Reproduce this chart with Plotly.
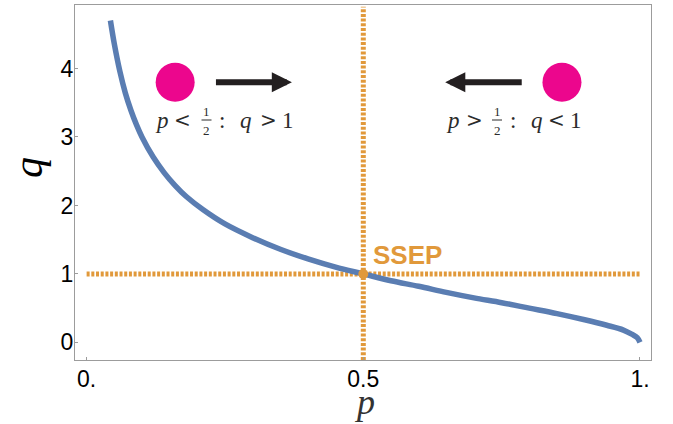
import plotly.graph_objects as go

# ---- data ----
p_vals = [0.043, 0.05, 0.06, 0.07, 0.08, 0.09, 0.10, 0.12, 0.14, 0.16, 0.18, 0.21,
          0.25, 0.30, 0.35, 0.40, 0.45, 0.50, 0.55, 0.60, 0.65, 0.70, 0.75, 0.80,
          0.85, 0.90, 0.94, 0.97, 0.985, 0.995, 1.0]
q_vals = [4.70, 4.36, 3.96, 3.64, 3.39, 3.18, 3.00, 2.71, 2.48, 2.29, 2.13, 1.94,
          1.73, 1.53, 1.36, 1.22, 1.10, 1.00, 0.90, 0.82, 0.73, 0.65, 0.58, 0.50,
          0.42, 0.33, 0.25, 0.18, 0.12, 0.07, 0.0]

hline_p = [0.0, 1.0]
hline_q = [1.0, 1.0]
vline_p = 0.5

ssep_p = [0.5]
ssep_q = [1.0]

particle_p = [0.160, 0.859]
particle_q = [3.80, 3.80]

x_tickvals = [0.0, 0.5, 1.0]
x_ticktext = ["0.", "0.5", "1."]
y_tickvals = [0, 1, 2, 3, 4]
y_ticktext = ["0", "1", "2", "3", "4"]

BLUE = "#5A7DB2"
ORANGE = "#E1993B"
PINK = "#EC068D"
FRAME = "#9C9C9C"
ARROW = "#231F20"

W, H = 673, 424
L, R, T, B = 75, 22, 5, 64
PW, PH = W - L - R, H - T - B


def px(x):
    return (x - L) / PW


def py(y):
    return 1 - (y - T) / PH


fig = go.Figure()

fig.add_trace(go.Scatter(x=hline_p, y=hline_q, mode="lines",
                         line=dict(color=ORANGE, width=5, dash="3px,1.7px"),
                         hoverinfo="skip", showlegend=False))
fig.add_shape(type="line", xref="x", yref="paper", x0=vline_p, x1=vline_p, y0=0, y1=0.995,
              line=dict(color=ORANGE, width=5, dash="3px,1.7px"), layer="below")

fig.add_trace(go.Scatter(x=p_vals, y=q_vals, mode="lines", line_shape="spline",
                         line=dict(color=BLUE, width=5.5),
                         hoverinfo="skip", showlegend=False))

fig.add_trace(go.Scatter(x=ssep_p, y=ssep_q, mode="markers",
                         marker=dict(color=ORANGE, size=10),
                         hoverinfo="skip", showlegend=False))

fig.add_trace(go.Scatter(x=particle_p, y=particle_q, mode="markers",
                         marker=dict(color=PINK, size=39, line=dict(width=0)),
                         hoverinfo="skip", showlegend=False))

annotations = []

# arrows
for tip, tail in [(0.371, 0.231), (0.648, 0.789)]:
    annotations.append(dict(x=tip, y=3.80, ax=tail, ay=3.80, xref="x", yref="y",
                            axref="x", ayref="y", text="", showarrow=True,
                            arrowhead=2, arrowsize=0.67, arrowwidth=6,
                            arrowcolor=ARROW))

# SSEP label
annotations.append(dict(x=px(371), y=py(255), xref="paper", yref="paper",
                        text="<b>SSEP</b>", showarrow=False, xanchor="left",
                        yanchor="middle",
                        font=dict(family="Liberation Sans, Arial", size=26, color=ORANGE)))

TXT = "#2B2B2B"
SERIF = "Liberation Serif, Times New Roman"
MF = dict(family=SERIF, size=23, color=TXT)
OF = dict(family="DejaVu Serif, " + SERIF, size=20, color=TXT)
FF = dict(family=SERIF, size=13, color=TXT)

# (text, centre x in px, font) pieces of the two condition labels
groups = [
    ([("<i>p</i>", 162, MF), ("<", 182.5, OF), (":", 222, MF), ("<i>q</i>", 246, MF),
      (">", 268.5, OF), ("1", 287.5, MF)], 206.5),
    ([("<i>p</i>", 453, MF), (">", 474, OF), (":", 513, MF), ("<i>q</i>", 536.5, MF),
      ("<", 556.5, OF), ("1", 576, MF)], 497),
]
for pieces, fx in groups:
    for t, cx, f in pieces:
        annotations.append(dict(x=px(cx), y=py(120), xref="paper", yref="paper", text=t,
                                showarrow=False, xanchor="center", yanchor="middle", font=f))
    annotations.append(dict(x=px(fx), y=py(111), xref="paper", yref="paper", text="1",
                            showarrow=False, xanchor="center", yanchor="middle", font=FF))
    annotations.append(dict(x=px(fx), y=py(130), xref="paper", yref="paper", text="2",
                            showarrow=False, xanchor="center", yanchor="middle", font=FF))
    fig.add_shape(type="line", xref="paper", yref="paper",
                  x0=px(fx - 5), x1=px(fx + 5), y0=py(120), y1=py(120),
                  line=dict(color=TXT, width=1))

# axis titles
annotations.append(dict(x=px(28), y=py(168), xref="paper", yref="paper",
                        text="<i>q</i>", showarrow=False, textangle=-90,
                        xanchor="center", yanchor="middle",
                        font=dict(family=SERIF, size=42, color="#000")))
annotations.append(dict(x=px(364), y=py(423), xref="paper", yref="paper",
                        text="<i>p</i>", showarrow=False, borderpad=0,
                        xanchor="center", yanchor="bottom",
                        font=dict(family=SERIF, size=36, color="#333")))

fig.update_layout(
    width=W, height=H,
    margin=dict(l=L, r=R, t=T, b=B, pad=0),
    paper_bgcolor="white", plot_bgcolor="white",
    showlegend=False,
    annotations=annotations,
    font=dict(family="Liberation Sans, Arial", size=23, color="#000"),
)

axis_common = dict(showgrid=False, zeroline=False, showline=True, mirror=True,
                   linecolor=FRAME, linewidth=1, ticks="inside", ticklen=3,
                   tickcolor=FRAME, tickwidth=1, automargin=False,
                   tickfont=dict(family="Liberation Sans, Arial", size=23, color="#000"))

fig.update_xaxes(range=[-0.021, 1.0199], tickvals=x_tickvals, ticktext=x_ticktext,
                 ticklabelstandoff=-2, **axis_common)
fig.update_yaxes(range=[-0.257, 4.927], tickvals=y_tickvals, ticktext=y_ticktext,
                 ticklabelstandoff=-4, **axis_common)

fig.write_html("out.html", config={"displayModeBar": False},
               post_script="document.body.style.margin='0';")
